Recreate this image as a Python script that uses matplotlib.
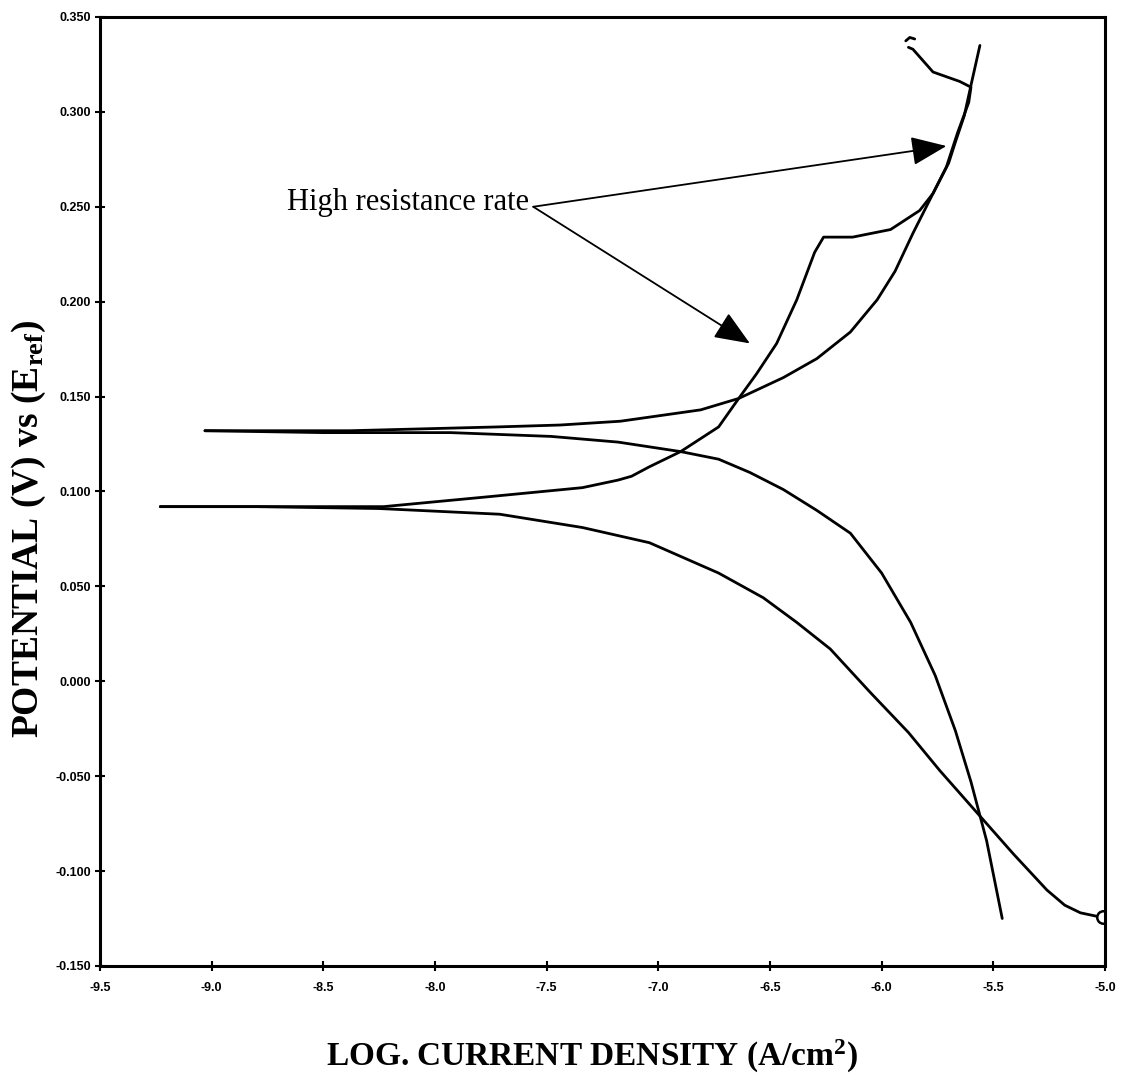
import matplotlib.pyplot as plt
import numpy as np

plt.rcParams["mathtext.fontset"] = "custom"
plt.rcParams["mathtext.bf"] = "Liberation Serif:bold"
plt.rcParams["mathtext.rm"] = "Liberation Serif"
plt.rcParams["mathtext.it"] = "Liberation Serif:italic"

# values
anodic_a_x = [-9.03, -8.38, -7.72, -7.44, -7.17, -6.99, -6.81, -6.64, -6.44, -6.29,
              -6.14, -6.02, -5.94, -5.86, -5.77, -5.70, -5.67, -5.63, -5.60, -5.56]
anodic_a_y = [0.132, 0.132, 0.134, 0.135, 0.137, 0.140, 0.143, 0.149, 0.160, 0.170,
              0.184, 0.201, 0.216, 0.236, 0.257, 0.273, 0.284, 0.298, 0.314, 0.335]

cathodic_a_x = [-9.03, -8.50, -7.93, -7.48, -7.18, -6.90, -6.73, -6.59, -6.44, -6.29,
                -6.14, -6.00, -5.87, -5.76, -5.67, -5.60, -5.53, -5.46]
cathodic_a_y = [0.132, 0.131, 0.131, 0.129, 0.126, 0.121, 0.117, 0.110, 0.101, 0.090,
                0.078, 0.057, 0.031, 0.003, -0.026, -0.053, -0.084, -0.125]

anodic_b_x = [-9.23, -8.80, -8.23, -7.78, -7.34, -7.18, -7.12, -7.04, -6.90, -6.73,
              -6.64, -6.56, -6.47, -6.38, -6.30, -6.26, -6.13, -5.96, -5.83, -5.77,
              -5.71, -5.66, -5.61, -5.60, -5.65, -5.77, -5.83, -5.86, -5.88]
anodic_b_y = [0.092, 0.092, 0.092, 0.097, 0.102, 0.106, 0.108, 0.113, 0.121, 0.134,
              0.149, 0.162, 0.178, 0.201, 0.226, 0.234, 0.234, 0.238, 0.248, 0.257,
              0.271, 0.289, 0.305, 0.313, 0.316, 0.321, 0.329, 0.333, 0.334]
b_tail_x = [-5.892, -5.874, -5.852]
b_tail_y = [0.3374, 0.3392, 0.3384]

cathodic_b_x = [-9.23, -8.80, -8.25, -7.71, -7.34, -7.04, -6.73, -6.53, -6.38, -6.23,
                -6.05, -5.88, -5.74, -5.56, -5.41, -5.26, -5.18, -5.11, -5.03]
cathodic_b_y = [0.092, 0.092, 0.091, 0.088, 0.081, 0.073, 0.057, 0.044, 0.031, 0.017,
                -0.006, -0.027, -0.047, -0.071, -0.091, -0.110, -0.118, -0.122, -0.124]
end_point = (-5.01, -0.124)

x_ticks = [-9.5, -9.0, -8.5, -8.0, -7.5, -7.0, -6.5, -6.0, -5.5, -5.0]
y_ticks = [0.350, 0.300, 0.250, 0.200, 0.150, 0.100, 0.050, 0.000, -0.050, -0.100, -0.150]

note_text = "High resistance rate"
note_xy = (-7.56, 0.250)
arrow_tips = [(-5.71, 0.282), (-6.59, 0.178)]

serif = "Liberation Serif"

fig = plt.figure(figsize=(11.21, 10.80), dpi=100)
ax = fig.add_axes([0.0892, 0.1056, 0.8965, 0.8787])

for xs, ys in [(anodic_a_x, anodic_a_y), (cathodic_a_x, cathodic_a_y),
               (anodic_b_x, anodic_b_y), (cathodic_b_x, cathodic_b_y),
               (b_tail_x, b_tail_y)]:
    ax.plot(xs, ys, color="black", lw=2.0, solid_capstyle="round", solid_joinstyle="round")

ax.plot(*end_point, marker="o", ms=9, mfc="white", mec="black", mew=1.8)

ax.set_xlim(-9.5, -5.0)
ax.set_ylim(-0.150, 0.350)
ax.set_xticks(x_ticks)
ax.set_xticklabels([f"{v:.1f}" for v in x_ticks])
ax.set_yticks(y_ticks)
ax.set_yticklabels([f"{v:.3f}" for v in y_ticks])
ax.tick_params(direction="inout", length=7, width=1.5, labelsize=9, pad=3)
ax.tick_params(axis="x", pad=8)
for lab in ax.get_xticklabels() + ax.get_yticklabels():
    lab.set_fontweight("bold")
    lab.set_family("Liberation Sans")
for sp in ax.spines.values():
    sp.set_linewidth(2.2)

ax.set_xlabel("LOG. CURRENT DENSITY (A/cm$^\\mathbf{2}$)", fontsize=24,
              fontweight="bold", family=serif)
ax.xaxis.set_label_coords(0.4896, -0.076)
ax.set_ylabel("POTENTIAL (V) vs (E$_\\mathbf{ref}$)", fontsize=27,
              fontweight="bold", family=serif)
ax.yaxis.set_label_coords(-0.052, 0.46)

ax.text(note_xy[0] - 0.02, note_xy[1] + 0.002, note_text, fontsize=22, family=serif,
        ha="right", va="center")
for tip in arrow_tips:
    ax.annotate("", xy=tip, xytext=note_xy,
                arrowprops=dict(arrowstyle="-|>,head_length=1.1,head_width=0.45",
                                color="black", lw=1.3, mutation_scale=20,
                                shrinkA=0, shrinkB=0))

fig.savefig("out.png", dpi=100)
